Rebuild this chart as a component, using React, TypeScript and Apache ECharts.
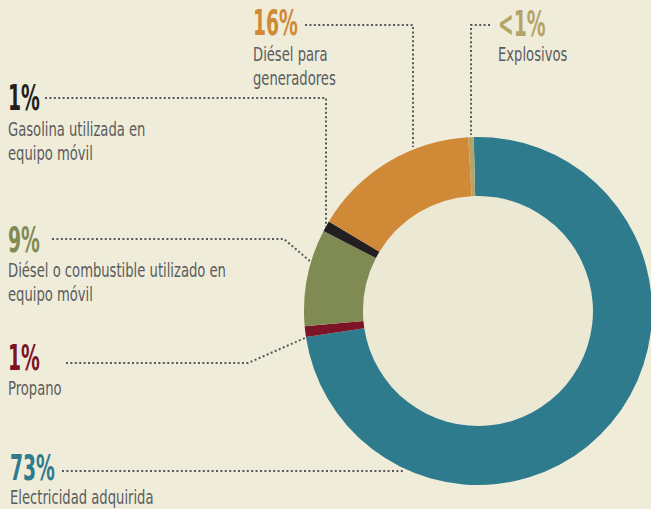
import React, { useEffect, useRef } from "react";
import * as echarts from "echarts";

// ---- data ----
const categories = [
  "Electricidad adquirida",
  "Propano",
  "Diésel o combustible utilizado en equipo móvil",
  "Gasolina utilizada en equipo móvil",
  "Diésel para generadores",
  "Explosivos",
];
const values = [73, 1, 9, 1, 15.5, 0.5];
const percentLabels = ["73%", "1%", "9%", "1%", "16%", "<1%"];
const descLines = [
  ["Electricidad adquirida"],
  ["Propano"],
  ["Diésel o combustible utilizado en", "equipo móvil"],
  ["Gasolina utilizada en", "equipo móvil"],
  ["Diésel para", "generadores"],
  ["Explosivos"],
];
const colors = ["#2e7b8e", "#7d1327", "#7f8b52", "#231f20", "#d08a37", "#b5a46a"];

// ---- layout (annotation positions) ----
const labelLayout = [
  { x: 10, pctY: 468, descY: 497, leader: [[62, 471], [405, 471]] },
  { x: 8, pctY: 358, descY: 388.5, leader: [[66, 363], [248, 363], [305, 338]] },
  { x: 8, pctY: 240, descY: 270.5, leader: [[52, 239], [284, 239], [311, 262]] },
  { x: 8, pctY: 98, descY: 129, leader: [[45, 98], [326, 98], [326, 227]] },
  { x: 253, pctY: 23, descY: 54.5, leader: [[305, 25], [413, 25], [413, 147]] },
  { x: 498, pctY: 24, descY: 54.5, leader: [[490, 25], [471, 25], [471, 135]] },
];

const BG = "#efedda";
const INNER = "#ebe8d4";
const TEXT = "#5a5b5d";
const DOT = "#58585a";
const CX = 478;
const CY = 311;
const R_IN = 115;
const R_OUT = 174;
const PCT_FONT = "'DejaVu Sans Condensed', 'Liberation Sans Narrow', sans-serif";
const DESC_FONT = "'DejaVu Sans Condensed', 'Liberation Sans Narrow', sans-serif";
const LINE_H = 24;

export default function App() {
  const ref = useRef<HTMLDivElement>(null);

  useEffect(() => {
    document.body.style.margin = "0";
    document.body.style.background = BG;
    if (!ref.current) return;
    const chart = echarts.init(ref.current, undefined, { renderer: "svg" });

    const graphics: any[] = [
      {
        type: "circle",
        shape: { cx: CX, cy: CY, r: R_IN },
        style: { fill: INNER },
        silent: true,
        z: 0,
      },
    ];

    labelLayout.forEach((l, i) => {
      graphics.push({
        type: "polyline",
        shape: { points: l.leader },
        style: { stroke: DOT, lineWidth: 2, lineDash: [2, 2.4], fill: null },
        silent: true,
        z: 5,
      });
      graphics.push({
        type: "text",
        x: l.x,
        y: l.pctY,
        scaleX: 0.58,
        style: {
          text: percentLabels[i],
          fontFamily: PCT_FONT,
          fontWeight: "bold",
          fontSize: 36,
          fill: colors[i],
          align: "left",
          verticalAlign: "middle",
        },
        silent: true,
        z: 10,
      });
      descLines[i].forEach((line, j) => {
        graphics.push({
          type: "text",
          x: l.x,
          y: l.descY + j * LINE_H,
          scaleX: 0.77,
          style: {
            text: line,
            fontFamily: DESC_FONT,
            fontSize: 19,
            fill: TEXT,
            align: "left",
            verticalAlign: "middle",
          },
          silent: true,
          z: 10,
        });
      });
    });

    chart.setOption({
      animation: false,
      backgroundColor: BG,
      series: [
        {
          type: "pie",
          center: [CX, CY],
          radius: [R_IN, R_OUT],
          startAngle: 91.4,
          clockwise: true,
          silent: true,
          label: { show: false },
          labelLine: { show: false },
          itemStyle: { borderWidth: 0 },
          emphasis: { disabled: true },
          data: categories.map((name, i) => ({
            name,
            value: values[i],
            itemStyle: { color: colors[i] },
          })),
        },
      ],
      graphic: graphics,
    });

    return () => {
      chart.dispose();
    };
  }, []);

  return <div ref={ref} style={{ width: 651, height: 509 }} />;
}
